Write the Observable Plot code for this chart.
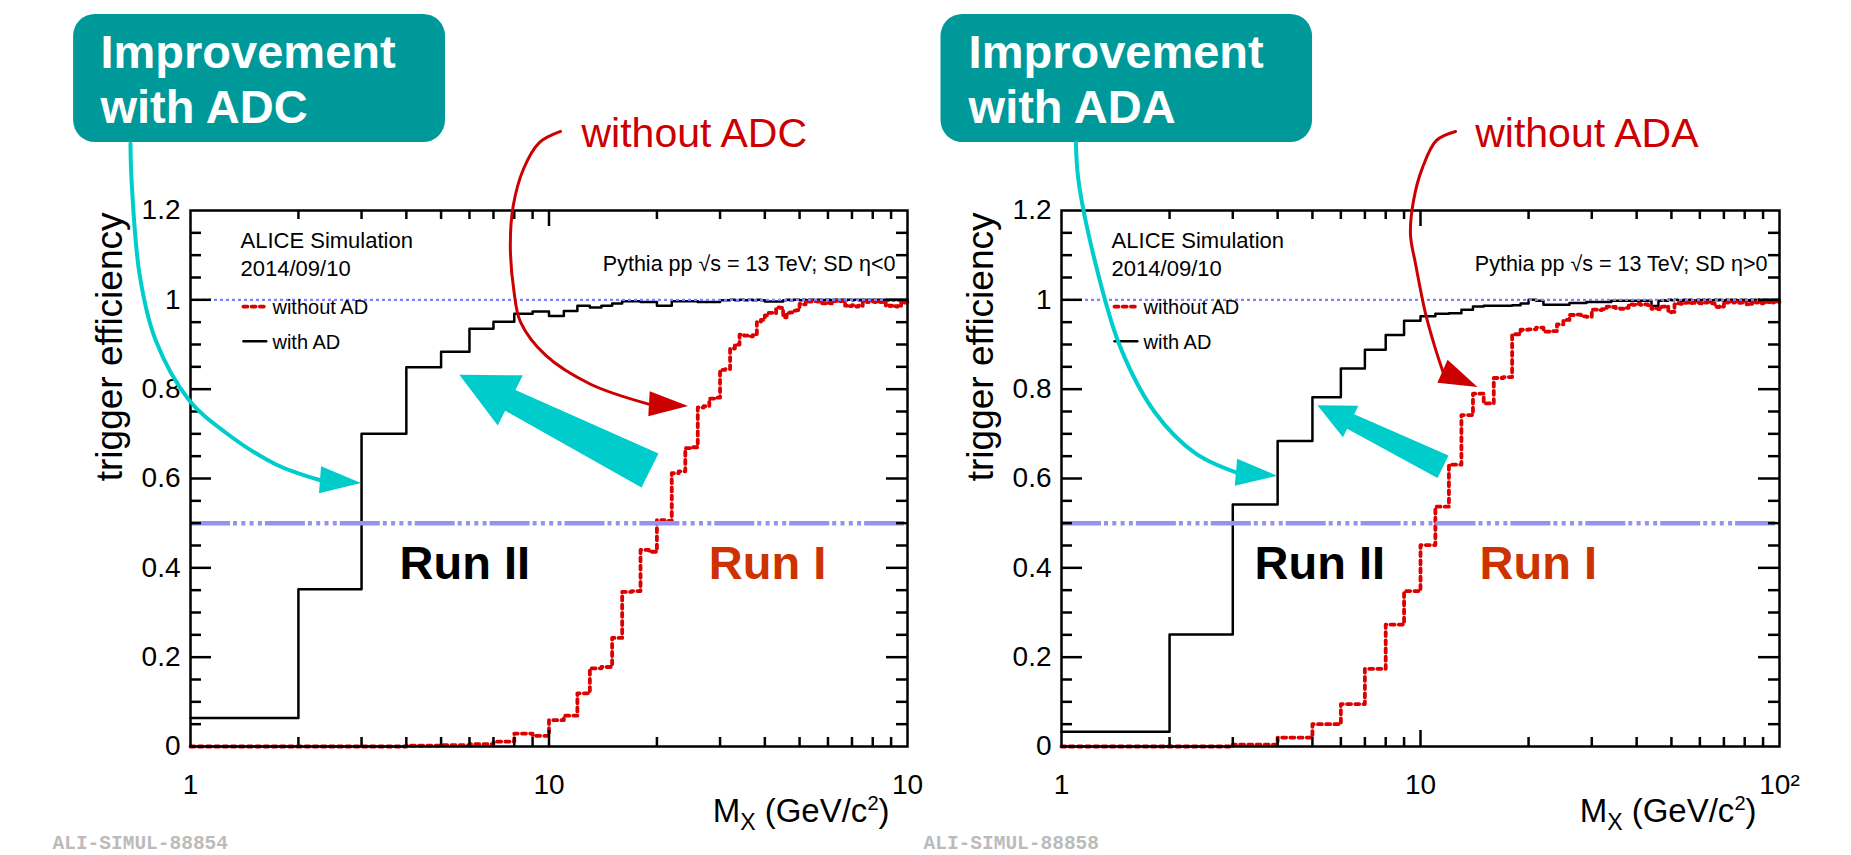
<!DOCTYPE html>
<html>
<head>
<meta charset="utf-8">
<script src="https://cdn.jsdelivr.net/npm/d3@7"></script>
<script src="https://cdn.jsdelivr.net/npm/@observablehq/plot@0.6"></script>
<style>
  html, body { margin: 0; padding: 0; background: #ffffff; }
  #wrap { position: relative; width: 1851px; height: 855px; overflow: hidden; background: #ffffff; }
</style>
</head>
<body>
<div id="wrap"></div>
<script>
// ---------------- data ----------------
// lower edges of the 99 one-GeV/c^2 bins from 1 to 100
const binLowEdges = d3.range(1, 100);
const binUpperEnd = 100;

// eta < 0 (left panel): ADC
const leftWithAD = [
  0.064, 0.352, 0.700, 0.849, 0.884, 0.935, 0.951, 0.969, 0.974, 0.964,
  0.975, 0.987, 0.983, 0.987, 0.992, 0.997, 0.997, 0.995, 0.995, 0.987,
  0.987, 0.997, 0.997, 0.997, 0.997, 0.995, 0.995, 0.995, 0.995, 0.999,
  0.999, 1.000, 0.999, 1.000, 0.999, 1.000, 0.999, 1.000, 0.999, 0.996,
  0.996, 0.996, 0.996, 0.996, 0.999, 1.000, 0.999, 1.000, 1.000, 0.999,
  1.000, 0.999, 1.000, 1.000, 0.999, 1.000, 1.000, 0.999, 1.000, 1.000,
  0.999, 1.000, 1.000, 0.999, 1.000, 1.000, 0.999, 1.000, 1.000, 0.999,
  1.000, 1.000, 0.999, 1.000, 1.000, 0.999, 1.000, 1.000, 0.999, 1.000,
  1.000, 0.999, 1.000, 1.000, 0.999, 1.000, 1.000, 0.999, 1.000, 1.000,
  0.999, 1.000, 1.000, 0.999, 1.000, 1.000, 0.999, 1.000, 1.000
];
const leftWithoutAD = [
  0.000, 0.000, 0.000, 0.002, 0.003, 0.005, 0.011, 0.029, 0.024, 0.059,
  0.069, 0.119, 0.175, 0.178, 0.243, 0.346, 0.348, 0.440, 0.436, 0.507,
  0.505, 0.612, 0.616, 0.668, 0.670, 0.759, 0.762, 0.779, 0.781, 0.843,
  0.845, 0.891, 0.900, 0.922, 0.920, 0.918, 0.921, 0.950, 0.955, 0.965,
  0.971, 0.970, 0.983, 0.982, 0.961, 0.971, 0.972, 0.976, 0.977, 0.991,
  0.990, 0.997, 0.996, 0.998, 0.997, 0.996, 0.993, 0.992, 0.994, 0.993,
  0.992, 0.997, 0.998, 0.996, 0.997, 0.998, 0.987, 0.988, 0.986, 0.988,
  0.986, 0.985, 0.987, 0.986, 0.996, 0.997, 0.995, 0.996, 0.997, 0.996,
  0.995, 0.994, 0.996, 0.995, 0.996, 0.994, 0.987, 0.988, 0.986, 0.987,
  0.988, 0.986, 0.985, 0.987, 0.986, 0.995, 0.996, 0.994, 0.995
];

// eta > 0 (right panel): ADA
const rightWithAD = [
  0.033, 0.251, 0.542, 0.684, 0.782, 0.846, 0.888, 0.921, 0.953, 0.963,
  0.969, 0.970, 0.978, 0.985, 0.987, 0.987, 0.987, 0.988, 0.992, 1.000,
  0.998, 0.989, 0.989, 0.989, 0.989, 0.993, 0.993, 0.993, 0.995, 0.995,
  0.995, 0.995, 0.995, 0.998, 0.998, 0.998, 0.998, 0.998, 0.998, 0.998,
  0.998, 0.998, 0.998, 0.986, 0.986, 0.998, 0.999, 0.998, 1.000, 0.999,
  1.000, 0.999, 0.998, 1.000, 0.999, 1.000, 0.999, 0.998, 1.000, 0.999,
  1.000, 0.999, 1.000, 0.998, 0.999, 1.000, 0.999, 1.000, 0.999, 0.998,
  1.000, 0.999, 1.000, 0.999, 1.000, 0.998, 0.999, 1.000, 0.999, 1.000,
  0.999, 0.998, 1.000, 0.999, 1.000, 0.999, 1.000, 0.998, 0.999, 1.000,
  0.999, 1.000, 0.999, 0.998, 1.000, 0.999, 1.000, 0.999, 1.000
];
const rightWithoutAD = [
  0.000, 0.000, 0.004, 0.020, 0.050, 0.095, 0.174, 0.273, 0.348, 0.451,
  0.537, 0.631, 0.742, 0.790, 0.768, 0.825, 0.827, 0.923, 0.933, 0.934,
  0.938, 0.929, 0.930, 0.945, 0.955, 0.966, 0.967, 0.963, 0.962, 0.978,
  0.977, 0.979, 0.985, 0.984, 0.981, 0.980, 0.982, 0.990, 0.989, 0.991,
  0.989, 0.990, 0.988, 0.980, 0.981, 0.979, 0.985, 0.986, 0.972, 0.973,
  0.990, 0.992, 0.991, 0.993, 0.994, 0.992, 0.993, 0.995, 0.994, 0.992,
  0.993, 0.994, 0.995, 0.993, 0.992, 0.985, 0.984, 0.986, 0.985, 0.993,
  0.994, 0.996, 0.995, 0.994, 0.996, 0.995, 0.993, 0.994, 0.995, 0.996,
  0.990, 0.989, 0.991, 0.995, 0.996, 0.994, 0.995, 0.993, 0.992, 0.994,
  0.996, 0.995, 0.997, 0.994, 0.993, 0.995, 0.996, 0.994, 0.995
];

// axes
const yTickLabels = [0, 0.2, 0.4, 0.6, 0.8, 1, 1.2];
const yMajorTicks = [0.2, 0.4, 0.6, 0.8, 1.0];
const yMinorTicks = [0.05, 0.1, 0.15, 0.25, 0.3, 0.35, 0.45, 0.5, 0.55, 0.65, 0.7, 0.75, 0.85, 0.9, 0.95, 1.05, 1.1, 1.15];
const xTickValues = [1, 10, 100];
const leftXTickLabels = ["1", "10", "10"];
const rightXTickLabels = ["1", "10", "10\u00b2"];
const xMajorTicks = [10];
const xMinorTicks = [2, 3, 4, 5, 6, 7, 8, 9, 20, 30, 40, 50, 60, 70, 80, 90];
const yTitle = "trigger efficiency";
const xTitle = "MX (GeV/c2)";

// reference lines
const fullEfficiency = [1];
const halfEfficiency = [0.5];

// in-plot labels (data coordinates)
const aliceLabels = [
  {x: 1.379, y: 1.116, t: "ALICE Simulation"},
  {x: 1.379, y: 1.054, t: "2014/09/10"}
];
const legendRedSample = [{x: 1.405, y: 0.985}, {x: 1.640, y: 0.985}];
const legendBlackSample = [{x: 1.405, y: 0.907}, {x: 1.626, y: 0.907}];
const legendLabels = [
  {x: 1.693, y: 0.969, t: "without AD"},
  {x: 1.693, y: 0.891, t: "with AD"}
];

// annotations, left panel
const leftInfo = "Pythia pp \u221As = 13 TeV; SD \u03b7<0";
const leftBox = [{x1: 0.472, x2: 5.145, y1: 1.352, y2: 1.639}];
const leftBoxText = [{x: 0.561, y: 1.520, t: "Improvement"}, {x: 0.561, y: 1.397, t: "with ADC"}];
const leftRedText = [{x: 12.32, y: 1.343, t: "without ADC"}];
const leftRunLabels = [{x: 3.83, y: 0.374, t: "Run II", c: "#000000"}, {x: 27.9, y: 0.374, t: "Run I", c: "#cc3300"}];
const leftTealCurve = [[0.680,1.350],[0.685,1.267],[0.722,1.054],[0.800,0.909],[0.99,0.776],[1.252,0.703],[1.726,0.632],[2.305,0.596]];
const leftTealTip = [3.0, 0.589];
const leftRedCurve = [[10.77,1.377],[9.40,1.352],[8.50,1.294],[7.95,1.211],[7.80,1.122],[7.98,1.021],[8.33,0.950],[9.78,0.876],[13.06,0.811],[19.07,0.766]];
const leftRedTip = [24.5, 0.761];
const leftBlockArrow = {tip: [5.64, 0.831], tail: [19.19, 0.617]};

// annotations, right panel
const rightInfo = "Pythia pp \u221As = 13 TeV; SD \u03b7>0";
const rightBox = [{x1: 0.4617, x2: 5.004, y1: 1.352, y2: 1.639}];
const rightBoxText = [{x: 0.551, y: 1.520, t: "Improvement"}, {x: 0.551, y: 1.397, t: "with ADA"}];
const rightRedText = [{x: 14.20, y: 1.343, t: "without ADA"}];
const rightRunLabels = [{x: 3.45, y: 0.374, t: "Run II", c: "#000000"}, {x: 14.6, y: 0.374, t: "Run I", c: "#cc3300"}];
const rightTealCurve = [[1.097,1.351],[1.115,1.267],[1.244,1.081],[1.460,0.893],[1.828,0.746],[2.362,0.656],[3.072,0.613]];
const rightTealTip = [4.0, 0.605];
const rightRedCurve = [[12.52,1.377],[11.08,1.357],[10.13,1.296],[9.561,1.222],[9.378,1.146],[9.685,1.081],[10.33,0.969],[10.94,0.897],[11.55,0.839]];
const rightRedTip = [14.46, 0.804];
const rightBlockArrow = {tip: [5.18, 0.763], tail: [11.59, 0.625]};

// ---------------- drawing ----------------
const TEAL = "#00cccc", BOXTEAL = "#009999", RED = "#cc0000", HRED = "#dd0000";
const FONT = "'Liberation Sans', Arial, Helvetica, sans-serif";
const RED_DASH = "4,4.2";

function steps(vals) {
  const rows = binLowEdges.map((e, i) => ({m: e, eff: vals[i]}));
  rows.push({m: binUpperEnd, eff: vals[vals.length - 1]});
  return rows;
}

function arrowShapes(thin, block) {
  return (index, scales) => {
    const sx = scales.x, sy = scales.y;
    const g = d3.create("svg:g");
    for (const h of thin) {
      const B = [sx(h.base[0]), sy(h.base[1])], T = [sx(h.tip[0]), sy(h.tip[1])];
      const dx = T[0] - B[0], dy = T[1] - B[1], L = Math.hypot(dx, dy);
      const nx = -dy / L, ny = dx / L;
      const pts = [T, [B[0] + nx * h.hw, B[1] + ny * h.hw], [B[0] - nx * h.hw, B[1] - ny * h.hw]];
      g.append("path").attr("d", "M" + pts.map(p => p.join(",")).join("L") + "Z").attr("fill", h.color);
    }
    for (const a of block) {
      const T = [sx(a.tip[0]), sy(a.tip[1])], C = [sx(a.tail[0]), sy(a.tail[1])];
      const dx = T[0] - C[0], dy = T[1] - C[1], L = Math.hypot(dx, dy);
      const ux = dx / L, uy = dy / L, nx = -uy, ny = ux;
      const B = [T[0] - ux * a.hl, T[1] - uy * a.hl];
      const pts = [
        T,
        [B[0] + nx * a.hw, B[1] + ny * a.hw],
        [B[0] + nx * a.s1, B[1] + ny * a.s1],
        [C[0] + nx * a.s2, C[1] + ny * a.s2],
        [C[0] - nx * a.s2, C[1] - ny * a.s2],
        [B[0] - nx * a.s1, B[1] - ny * a.s1],
        [B[0] - nx * a.hw, B[1] - ny * a.hw]
      ];
      g.append("path").attr("d", "M" + pts.map(p => p.join(",")).join("L") + "Z").attr("fill", a.color);
    }
    return g.node();
  };
}

function panel(cfg) {
  const W = cfg.width, H = 855, ml = cfg.ml, mr = cfg.mr, mt = 210, mb = 109;
  const FW = W - ml - mr, FH = H - mt - mb;
  const svg = Plot.plot({
    width: W, height: H,
    marginLeft: ml, marginRight: mr, marginTop: mt, marginBottom: mb,
    x: {type: "log", domain: [1, 100], axis: null},
    y: {domain: [0, 1.2], axis: null},
    style: {position: "absolute", left: cfg.left + "px", top: "0px", background: "transparent", overflow: "visible", fontFamily: FONT, color: "black"},
    marks: [
      // histograms
      Plot.line(steps(cfg.withAD), {x: "m", y: "eff", curve: "step-after", stroke: "black", strokeWidth: 2.5}),
      Plot.line(steps(cfg.withoutAD), {x: "m", y: "eff", curve: "step-after", stroke: HRED, strokeWidth: 3.8, strokeDasharray: RED_DASH}),
      // reference lines
      Plot.ruleY(fullEfficiency, {stroke: "#7f7fff", strokeWidth: 2.4, strokeDasharray: "3,3"}),
      Plot.ruleY(halfEfficiency, {stroke: "#9494ee", strokeWidth: 4.5, strokeDasharray: "40,3,4,4.3,4,4.3,4,4.3,4,3"}),
      // frame and ROOT-style inner ticks
      Plot.frame({stroke: "black", strokeWidth: 2.5}),
      Plot.tickY(yMinorTicks, {y: d => d, insetRight: FW - 11, strokeWidth: 2.5}),
      Plot.tickY(yMajorTicks, {y: d => d, insetRight: FW - 21, strokeWidth: 2.5}),
      Plot.tickY(yMinorTicks, {y: d => d, insetLeft: FW - 11, strokeWidth: 2.5}),
      Plot.tickY(yMajorTicks, {y: d => d, insetLeft: FW - 21, strokeWidth: 2.5}),
      Plot.tickX(xMinorTicks, {x: d => d, insetTop: FH - 9, strokeWidth: 2.5}),
      Plot.tickX(xMajorTicks, {x: d => d, insetTop: FH - 16, strokeWidth: 2.5}),
      Plot.tickX(xMinorTicks, {x: d => d, insetBottom: FH - 9, strokeWidth: 2.5}),
      Plot.tickX(xMajorTicks, {x: d => d, insetBottom: FH - 16, strokeWidth: 2.5}),
      // tick labels
      Plot.text(yTickLabels, {y: d => d, text: d => String(d), frameAnchor: "left", dx: -10, textAnchor: "end", fontSize: 28}),
      Plot.text(xTickValues, {x: d => d, text: (d, i) => cfg.xLabels[i], frameAnchor: "bottom", dy: 28, lineAnchor: "top", fontSize: 28}),
      // axis titles
      Plot.text([yTitle], {text: d => d, frameAnchor: "top-left", dx: -95, dy: 2, rotate: -90, textAnchor: "end", fontSize: 37}),
      Plot.text([xTitle], {text: d => d, frameAnchor: "bottom-right", dx: cfg.xTitleDx, dy: 75, textAnchor: "end", lineAnchor: "bottom", fontSize: 33}),
      // in-plot text & legend
      Plot.text(aliceLabels, {x: "x", y: "y", text: "t", textAnchor: "start", lineAnchor: "bottom", fontSize: 22}),
      Plot.text([cfg.info], {text: d => d, x: 92.6, y: 1.064, textAnchor: "end", lineAnchor: "bottom", fontSize: 21.5}),
      Plot.line(legendRedSample, {x: "x", y: "y", stroke: HRED, strokeWidth: 3.8, strokeDasharray: RED_DASH}),
      Plot.line(legendBlackSample, {x: "x", y: "y", stroke: "black", strokeWidth: 2.5}),
      Plot.text(legendLabels, {x: "x", y: "y", text: "t", textAnchor: "start", lineAnchor: "bottom", fontSize: 20}),
      Plot.text(cfg.runLabels, {x: "x", y: "y", text: "t", fill: "c", textAnchor: "start", lineAnchor: "bottom", fontSize: 47, fontWeight: "bold"}),
      // callouts
      Plot.rect(cfg.box, {x1: "x1", x2: "x2", y1: "y1", y2: "y2", fill: BOXTEAL, rx: 22}),
      Plot.text(cfg.boxText, {x: "x", y: "y", text: "t", fill: "white", textAnchor: "start", lineAnchor: "bottom", fontSize: 47, fontWeight: "bold"}),
      Plot.text(cfg.redText, {x: "x", y: "y", text: "t", fill: RED, textAnchor: "start", lineAnchor: "bottom", fontSize: 41}),
      Plot.line(cfg.tealCurve, {x: d => d[0], y: d => d[1], curve: "catmull-rom", stroke: TEAL, strokeWidth: 4}),
      Plot.line(cfg.redCurve, {x: d => d[0], y: d => d[1], curve: "catmull-rom", stroke: RED, strokeWidth: 3}),
      arrowShapes(
        [
          {base: cfg.tealCurve[cfg.tealCurve.length - 1], tip: cfg.tealTip, hw: 13.5, color: TEAL},
          {base: cfg.redCurve[cfg.redCurve.length - 1], tip: cfg.redTip, hw: 12.5, color: RED}
        ],
        [Object.assign({color: TEAL}, cfg.block, cfg.blockSize)]
      ),
      // watermark
      Plot.text([cfg.watermark], {text: d => d, frameAnchor: "bottom-left", dx: -138, dy: 102, textAnchor: "start", lineAnchor: "bottom", fontFamily: "'Liberation Mono', 'DejaVu Sans Mono', monospace", fontWeight: "bold", fontSize: 19.5, fill: "#bbbbbb"})
    ]
  });
  // sub/superscripts of the x title: M_X (GeV/c^2)
  d3.select(svg).selectAll("text").filter(function () { return this.textContent === xTitle; }).each(function () {
    const t = d3.select(this);
    t.text(null);
    t.append("tspan").text("M");
    t.append("tspan").attr("font-size", 23).attr("dy", 8).text("X");
    t.append("tspan").attr("dy", -8).text(" (GeV/c");
    t.append("tspan").attr("font-size", 20).attr("dy", -12).text("2");
    t.append("tspan").attr("dy", 12).text(")");
  });
  return svg;
}

const wrap = document.getElementById("wrap");
wrap.appendChild(panel({
  left: 0, width: 925, ml: 190, mr: 18, xTitleDx: -18,
  withAD: leftWithAD, withoutAD: leftWithoutAD, xLabels: leftXTickLabels,
  info: leftInfo, box: leftBox, boxText: leftBoxText, redText: leftRedText, runLabels: leftRunLabels,
  tealCurve: leftTealCurve, tealTip: leftTealTip, redCurve: leftRedCurve, redTip: leftRedTip,
  block: leftBlockArrow, blockSize: {hl: 57, hw: 28, s1: 11.5, s2: 19},
  watermark: "ALI-SIMUL-88854"
}));
wrap.appendChild(panel({
  left: 905, width: 946, ml: 156, mr: 72, xTitleDx: -23,
  withAD: rightWithAD, withoutAD: rightWithoutAD, xLabels: rightXTickLabels,
  info: rightInfo, box: rightBox, boxText: rightBoxText, redText: rightRedText, runLabels: rightRunLabels,
  tealCurve: rightTealCurve, tealTip: rightTealTip, redCurve: rightRedCurve, redTip: rightRedTip,
  block: rightBlockArrow, blockSize: {hl: 37, hw: 17.5, s1: 8, s2: 12.5},
  watermark: "ALI-SIMUL-88858"
}));
</script>
</body>
</html>
